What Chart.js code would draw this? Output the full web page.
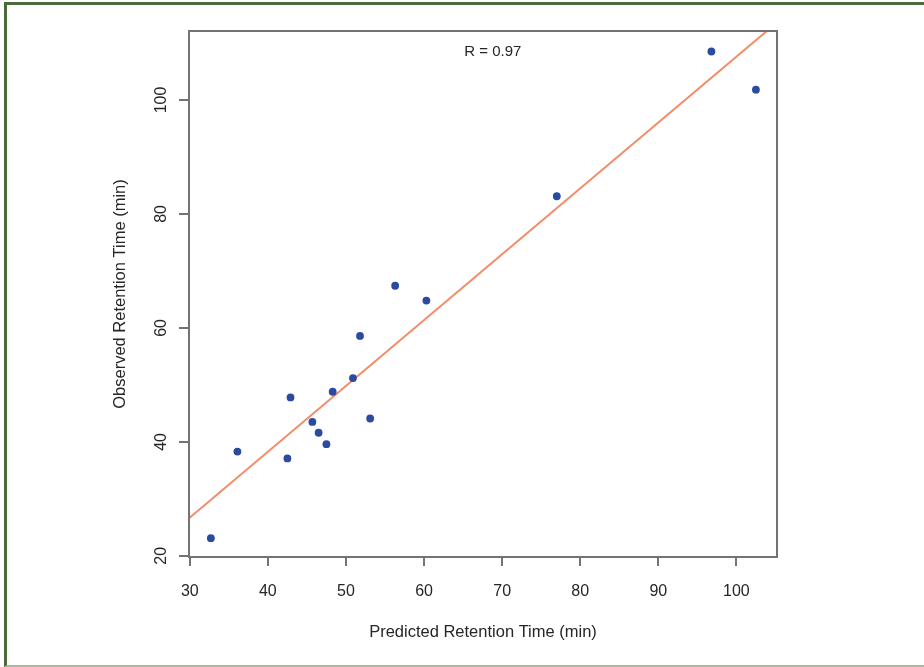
<!DOCTYPE html>
<html>
<head>
<meta charset="utf-8">
<script src="https://cdn.jsdelivr.net/npm/chart.js@4.4.1/dist/chart.umd.min.js"></script>
<style>
  html,body{margin:0;padding:0;background:#fff;}
  #wrap{position:relative;width:924px;height:667px;}
  #frame{position:absolute;left:4px;top:2px;width:920px;height:665px;box-sizing:border-box;
    border-top:3px solid #4a6a3a;border-left:3px solid #4a6a3a;border-bottom:2px solid #a9ba9b;pointer-events:none;}
  canvas{position:absolute;left:0;top:0;}
</style>
</head>
<body>
<div id="wrap">
  <canvas id="chart" width="924" height="667"></canvas>
  <div id="frame"></div>
</div>
<script>
// ==================== Data ====================
const predicted=[32.7,36.1,42.5,42.9,45.7,46.5,47.5,48.3,50.9,51.8,53.1,56.3,60.3,77.0,96.8,102.5];
const observed =[23.1,38.3,37.1,47.8,43.5,41.6,39.6,48.8,51.2,58.6,44.1,67.4,64.8,83.1,108.5,101.8];

// fitted line at both ends of the x range
const fitX=[29.9,105.2];
const fitY=[26.6,113.6];

const xTicks=[30,40,50,60,70,80,90,100];
const yTicks=[20,40,60,80,100];

const xTitle="Predicted Retention Time (min)";
const yTitle="Observed Retention Time (min)";
const rLabel="R = 0.97";
const rLabelAt=[68.8,108.4];

// ========================================================
const FONT="'Liberation Sans', Arial, Helvetica, sans-serif";
const TEXT="#262626";
const AXIS="#737373";

const boxPlugin={
  id:"box",
  afterDraw(chart){
    const {ctx,chartArea:a}=chart;
    ctx.save();
    ctx.strokeStyle=AXIS;
    ctx.lineWidth=2;
    ctx.strokeRect(a.left,a.top,a.right-a.left,a.bottom-a.top);
    ctx.restore();
  }
};

const rPlugin={
  id:"rlabel",
  afterDatasetsDraw(chart){
    const {ctx,scales}=chart;
    ctx.save();
    ctx.font="15px "+FONT;
    ctx.fillStyle=TEXT;
    ctx.textAlign="center";
    ctx.textBaseline="middle";
    ctx.fillText(rLabel,scales.x.getPixelForValue(rLabelAt[0]),scales.y.getPixelForValue(rLabelAt[1]));
    ctx.restore();
  }
};

new Chart(document.getElementById("chart"),{
  type:"scatter",
  data:{
    datasets:[
      {
        type:"line",
        data:fitX.map((x,i)=>({x,y:fitY[i]})),
        borderColor:"#f48c6a",
        borderWidth:2,
        pointRadius:0,
        fill:false,
        clip:0,
        order:2
      },
      {
        data:predicted.map((x,i)=>({x,y:observed[i]})),
        backgroundColor:"#2b4aa0",
        borderColor:"#2b4aa0",
        pointRadius:3.9,
        borderWidth:0,
        order:1
      }
    ]
  },
  options:{
    responsive:false,
    animation:false,
    layout:{padding:{left:0,top:31,right:147,bottom:0}},
    plugins:{legend:{display:false},tooltip:{enabled:false}},
    scales:{
      x:{
        type:"linear",
        min:29.9,max:105.2,
        afterBuildTicks:s=>{s.ticks=xTicks.map(v=>({value:v}));},
        afterFit:s=>{s.height=110;},
        grid:{drawOnChartArea:false,color:AXIS,lineWidth:2,tickLength:9,tickWidth:2},
        border:{display:false},
        ticks:{color:TEXT,font:{family:FONT,size:16},padding:16,maxRotation:0},
        title:{display:true,text:xTitle,color:TEXT,font:{family:FONT,size:16.5},padding:{top:0,bottom:25}}
      },
      y:{
        type:"linear",
        min:19.8,max:112.1,
        afterBuildTicks:s=>{s.ticks=yTicks.map(v=>({value:v}));},
        afterFit:s=>{s.width=189;},
        grid:{drawOnChartArea:false,color:AXIS,lineWidth:2,tickLength:10,tickWidth:2},
        border:{display:false},
        ticks:{color:TEXT,font:{family:FONT,size:16},padding:4,minRotation:90,maxRotation:90,crossAlign:"center"},
        title:{display:true,text:yTitle,color:TEXT,font:{family:FONT,size:16.5},padding:{top:111,bottom:0}}
      }
    }
  },
  plugins:[boxPlugin,rPlugin]
});
</script>
</body>
</html>
